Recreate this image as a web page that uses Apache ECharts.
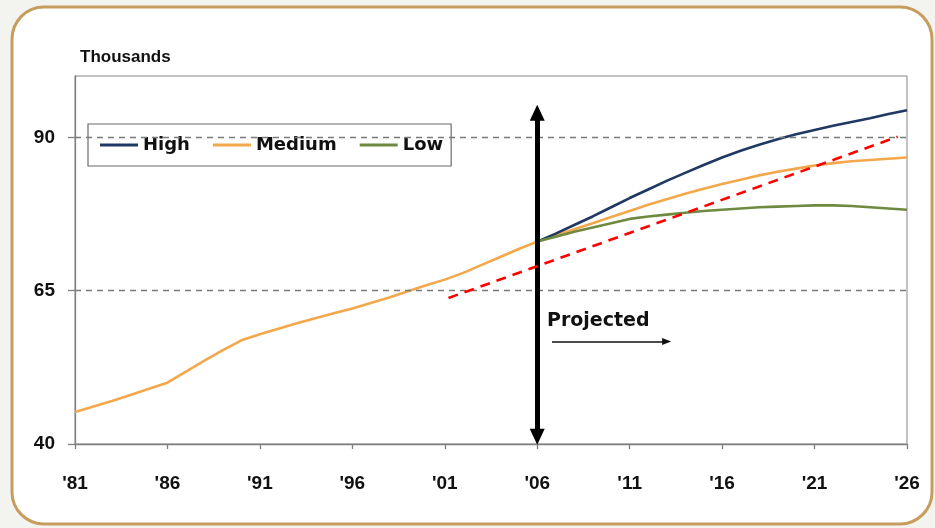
<!DOCTYPE html>
<html>
<head>
<meta charset="utf-8">
<script src="https://cdn.jsdelivr.net/npm/echarts@6/dist/echarts.min.js"></script>
<style>
html,body{margin:0;padding:0;background:#f3f3f0;}
#chart{width:935px;height:528px;}
</style>
</head>
<body>
<div id="chart"></div>
<script>
// ---- data ----
const baseYear = 1981;
const years = [1981,1982,1983,1984,1985,1986,1987,1988,1989,1990,1991,1992,1993,1994,1995,1996,1997,1998,1999,2000,2001,2002,2003,2004,2005,2006,2007,2008,2009,2010,2011,2012,2013,2014,2015,2016,2017,2018,2019,2020,2021,2022,2023,2024,2025,2026];
const medium = [45.2,46.1,47.0,48.0,49.0,50.0,51.8,53.6,55.3,56.9,57.9,58.8,59.7,60.5,61.3,62.1,63.0,63.9,64.9,65.9,66.8,67.9,69.2,70.5,71.8,73.0,74.0,75.0,76.0,77.0,78.0,79.0,79.9,80.8,81.6,82.4,83.1,83.8,84.4,84.9,85.4,85.8,86.1,86.3,86.5,86.7];
const projYears = [2006,2007,2008,2009,2010,2011,2012,2013,2014,2015,2016,2017,2018,2019,2020,2021,2022,2023,2024,2025,2026];
const high = [73.0,74.3,75.7,77.1,78.6,80.1,81.5,82.9,84.2,85.5,86.7,87.8,88.8,89.7,90.5,91.2,91.9,92.5,93.1,93.8,94.4];
const low  = [73.0,73.8,74.6,75.3,76.0,76.7,77.1,77.4,77.7,78.0,78.2,78.4,78.6,78.7,78.8,78.9,78.9,78.8,78.6,78.4,78.2];
const trendYears = [2001.2, 2025.5];
const trendValues = [63.8, 90.1];
const tickLabels = ["'81","'86","'91","'96","'01","'06","'11","'16","'21","'26"];
const yTicks = [40, 65, 90];
const gridValues = [65, 90];
const seriesNames = ['High', 'Medium', 'Low'];
const projectionYear = 2006;

// ---- build ----
const pts = (xs, ys) => xs.map((x, i) => [x - baseYear, ys[i]]);
const px = projectionYear - baseYear;

const chart = echarts.init(document.getElementById('chart'), null, {renderer: 'canvas'});
const labelFont = {fontFamily: 'Liberation Sans, Arial', fontWeight: 'bold', fontSize: 19, color: '#111'};

chart.setOption({
  animation: false,
  graphic: [
    {type: 'rect', z: -10, shape: {x: 12, y: 7, width: 920, height: 517, r: 32},
     style: {fill: '#ffffff', stroke: '#C79D5E', lineWidth: 3}},
    {type: 'text', z: 100, x: 80, y: 49,
     style: {text: 'Thousands', font: 'bold 17px "Liberation Sans", Arial', fill: '#111', textVerticalAlign: 'top'}},
    {type: 'text', z: 100, x: 547, y: 321,
     style: {text: 'Projected', font: 'bold 19px "DejaVu Sans"', fill: '#111', textVerticalAlign: 'middle'}}
  ],
  grid: {left: 75, right: 28, top: 76, bottom: 84, show: true, borderColor: '#858585', borderWidth: 1, backgroundColor: 'transparent'},
  legend: {
    data: seriesNames,
    left: 88, top: 124,
    orient: 'horizontal',
    backgroundColor: '#ffffff',
    borderColor: '#6b6b6b', borderWidth: 1.2,
    padding: [12, 8, 12, 12],
    itemGap: 23, itemWidth: 38, itemHeight: 3,
    icon: 'rect',
    textStyle: {fontFamily: 'DejaVu Sans', fontWeight: 'bold', fontSize: 18, color: '#111'}
  },
  xAxis: {
    type: 'value', min: 0, max: 45, interval: 5,
    axisLine: {show: true, lineStyle: {color: '#808080', width: 1.3}},
    axisTick: {show: true, length: 5, lineStyle: {color: '#808080', width: 1.3}},
    axisLabel: Object.assign({margin: 30, formatter: v => tickLabels[Math.round(v / 5)]}, labelFont),
    splitLine: {show: false}
  },
  yAxis: {
    type: 'value', min: 40, max: 100, interval: 25,
    axisLine: {show: true, lineStyle: {color: '#808080', width: 1.3}},
    axisTick: {show: true, length: 7, customValues: yTicks, lineStyle: {color: '#808080', width: 1.3}},
    axisLabel: Object.assign({margin: 20, customValues: yTicks}, labelFont),
    splitLine: {show: false}
  },
  series: [
    {name: 'Medium', type: 'line', data: pts(years, medium), showSymbol: false, symbol: 'none',
     color: '#F3A84C', lineStyle: {width: 2.6, color: '#F3A84C'}, z: 3,
     markLine: {silent: true, symbol: 'none', label: {show: false},
       lineStyle: {color: '#7a7a7a', type: [6, 5], width: 1.4},
       data: gridValues.map(v => ({yAxis: v}))}},
    {name: 'High', type: 'line', data: pts(projYears, high), showSymbol: false, symbol: 'none',
     color: '#1F3864', lineStyle: {width: 2.6, color: '#1F3864'}, z: 4},
    {name: 'Low', type: 'line', data: pts(projYears, low), showSymbol: false, symbol: 'none',
     color: '#6F8A40', lineStyle: {width: 2.6, color: '#6F8A40'}, z: 4},
    {name: 'trend', type: 'line', data: pts(trendYears, trendValues), showSymbol: false, symbol: 'none',
     color: '#FF0000', lineStyle: {width: 2.6, color: '#FF0000', type: [10, 7]}, z: 5},
    {name: 'arrowV', type: 'line', data: [], z: 8,
     markLine: {silent: true, symbol: ['triangle', 'triangle'], symbolSize: [15, 16], label: {show: false},
       lineStyle: {color: '#000', width: 5, type: 'solid'},
       data: [[{coord: [px, 41.2]}, {coord: [px, 94.0]}]]}},
    {name: 'arrowH', type: 'line', data: [], z: 8,
     markLine: {silent: true, symbol: ['none', 'triangle'], symbolSize: [7, 9], label: {show: false},
       lineStyle: {color: '#111', width: 1.5, type: 'solid'},
       data: [[{coord: [25.8, 56.7]}, {coord: [32.0, 56.7]}]]}}
  ]
});
</script>
</body>
</html>
